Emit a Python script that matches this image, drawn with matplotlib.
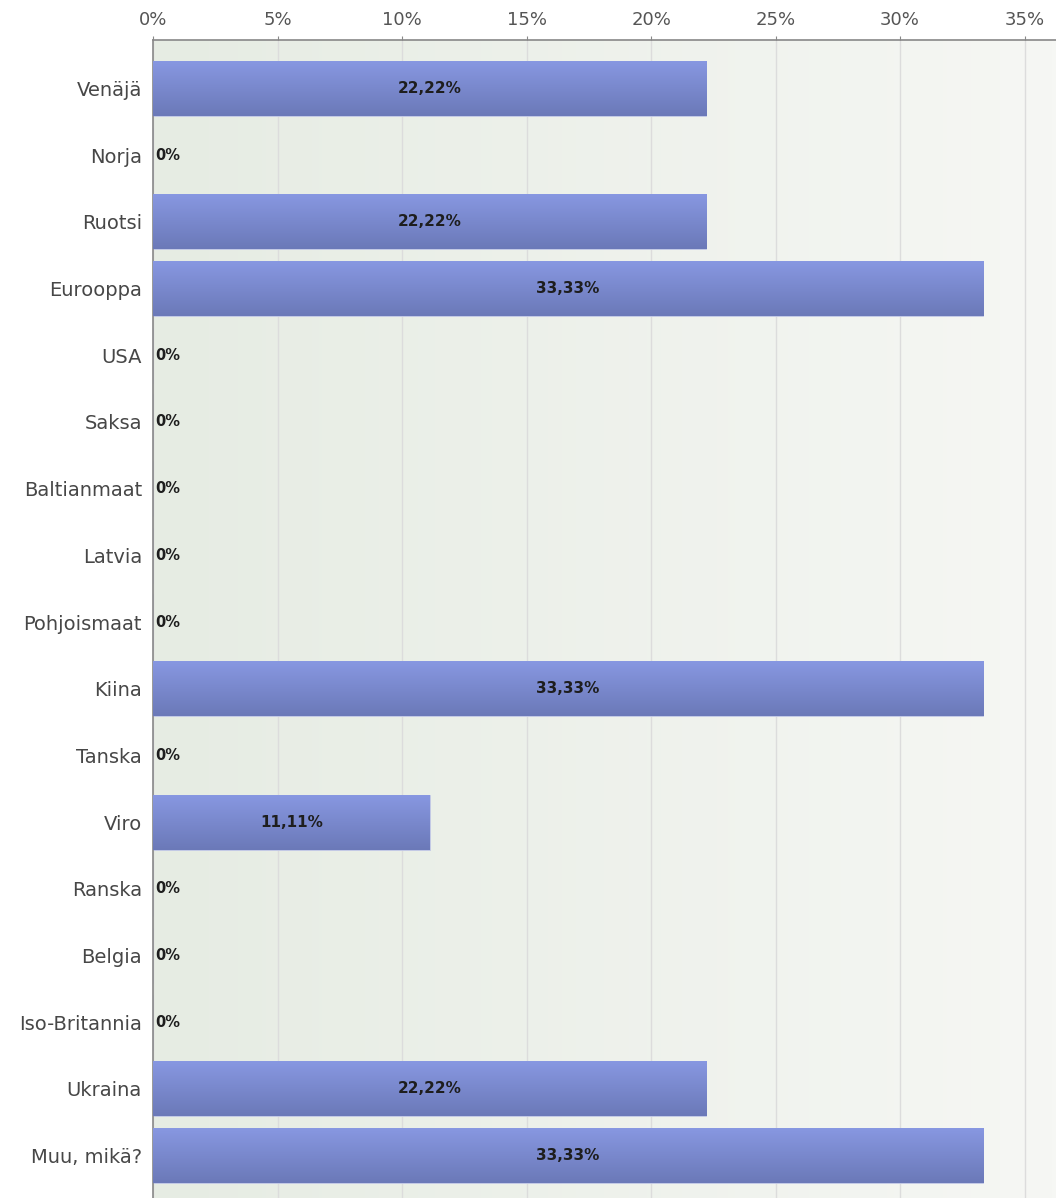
import matplotlib
matplotlib.use("Agg")
import matplotlib.pyplot as plt
import numpy as np
from matplotlib.colors import LinearSegmentedColormap

categories = ["Venäjä", "Norja", "Ruotsi", "Eurooppa", "USA", "Saksa", "Baltianmaat",
              "Latvia", "Pohjoismaat", "Kiina", "Tanska", "Viro", "Ranska", "Belgia",
              "Iso-Britannia", "Ukraina", "Muu, mikä?"]
values = [22.22, 0, 22.22, 33.33, 0, 0, 0, 0, 0, 33.33, 0, 11.11, 0, 0, 0, 22.22, 33.33]
value_labels = ["22,22%", "0%", "22,22%", "33,33%", "0%", "0%", "0%", "0%", "0%", "33,33%",
                "0%", "11,11%", "0%", "0%", "0%", "22,22%", "33,33%"]
ticks = [0, 5, 10, 15, 20, 25, 30, 35]
tick_labels = ["0%", "5%", "10%", "15%", "20%", "25%", "30%", "35%"]

W, H = 1056, 1198
fig = plt.figure(figsize=(W / 100, H / 100), dpi=100)
ax = fig.add_axes([153 / W, 0, (W - 153) / W, (1198 - 40) / H])

n = len(categories)
y = np.arange(n)
ax.set_xlim(0, 36.26)
ax.set_ylim(n - 1 + 0.637, -0.727)

# background gradient
bg = LinearSegmentedColormap.from_list("bg", ["#e6ece3", "#f6f7f4"])
ax.imshow(np.linspace(0, 1, 256).reshape(1, -1), cmap=bg, aspect="auto",
          extent=[0, 1, 0, 1], transform=ax.transAxes, zorder=0)

for t in ticks:
    ax.axvline(t, color="#dcdcdc", lw=1, zorder=1)

bar_cmap = LinearSegmentedColormap.from_list("bar", ["#8898e2", "#6b79b8"])
bars = ax.barh(y, values, height=0.825, color="#7886cc", zorder=2,
               edgecolor="#c7cde8", linewidth=0.6)
grad = np.linspace(0, 1, 128).reshape(-1, 1)
for b, v in zip(bars, values):
    if v <= 0:
        continue
    x0, y0 = b.get_x(), b.get_y()
    w, h = b.get_width(), b.get_height()
    im = ax.imshow(grad, cmap=bar_cmap, aspect="auto",
                   extent=[x0, x0 + w, y0 + h, y0], zorder=3, interpolation="bilinear")
    im.set_clip_path(b)

for yi, v, lab in zip(y, values, value_labels):
    if v > 0:
        ax.text(v / 2, yi, lab, ha="center", va="center", fontsize=11,
                fontweight="bold", color="#1e1e1e", zorder=5)
    else:
        ax.text(0.1, yi, lab, ha="left", va="center", fontsize=10.5,
                fontweight="bold", color="#1e1e1e", zorder=5)

ax.set_yticks(y)
ax.set_yticklabels(categories, fontsize=14, color="#474747")
ax.set_xticks(ticks)
ax.set_xticklabels(tick_labels, fontsize=13, color="#555555")
ax.xaxis.tick_top()
ax.tick_params(axis="x", length=3, color="#888888", pad=5)
ax.tick_params(axis="y", length=0, pad=8)
for s in ["right", "bottom"]:
    ax.spines[s].set_visible(False)
ax.spines["top"].set_color("#888888")
ax.spines["left"].set_color("#888888")
ax.spines["top"].set_linewidth(1.2)
ax.spines["left"].set_linewidth(1.2)
ax.set_zorder(1)

fig.savefig("out.png", dpi=100)
